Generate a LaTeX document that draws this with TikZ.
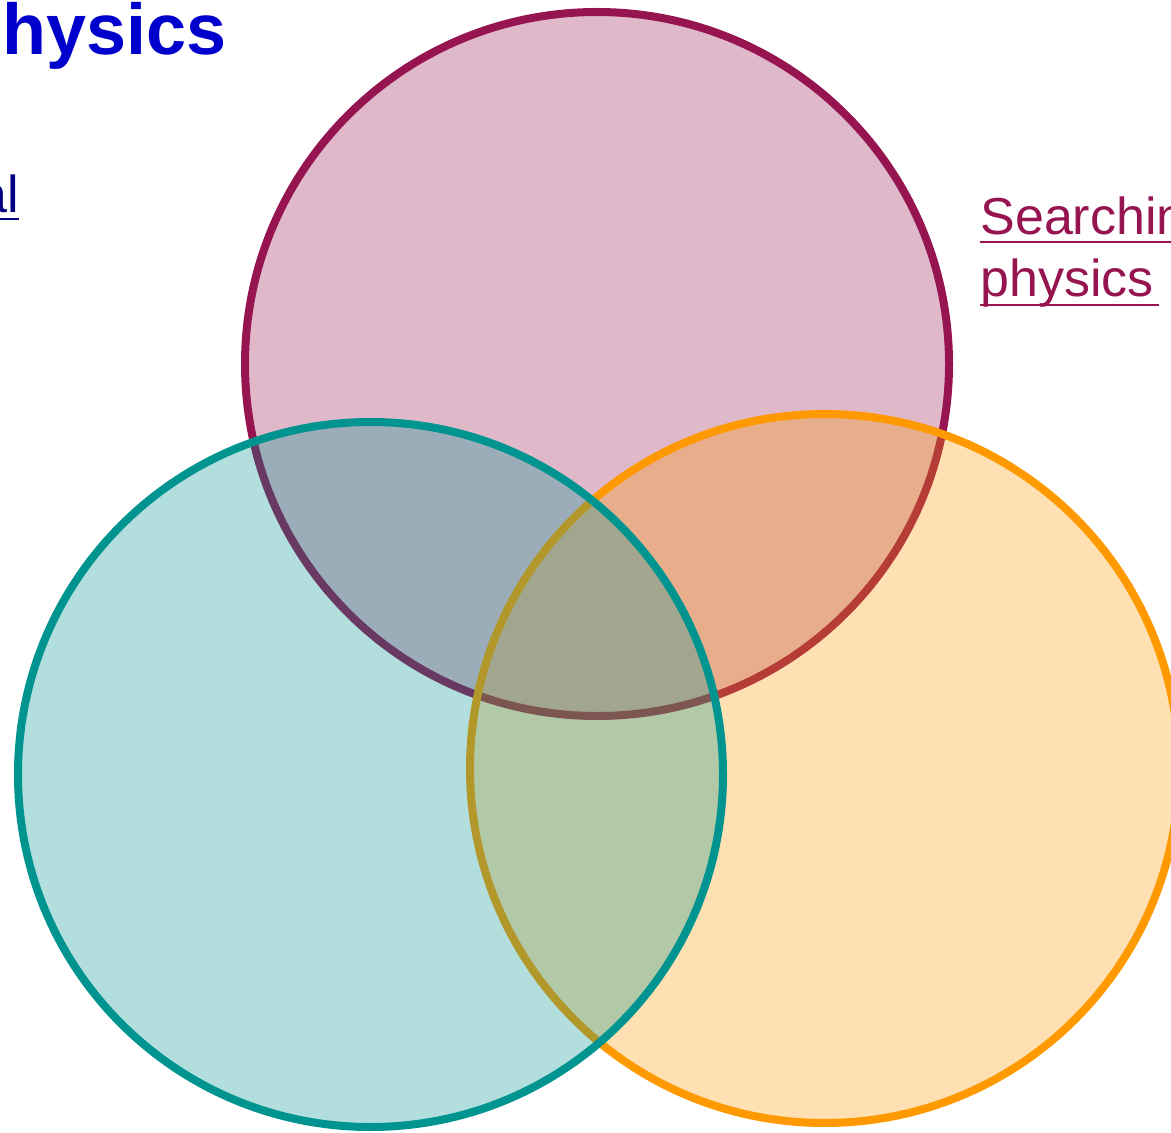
\documentclass[tikz,border=0pt]{standalone}
\usepackage{fontspec}
\setmainfont{Liberation Sans}
\usepackage{xcolor}
\usetikzlibrary{positioning}
\definecolor{hepcol}{HTML}{961450}
\definecolor{tealcol}{HTML}{009490}
\definecolor{orangecol}{HTML}{FF9900}
\definecolor{titlecol}{HTML}{0000CC}
\definecolor{navycol}{HTML}{000080}
\tikzset{
  venn/.style={
    shape = circle,
    inner sep = 0pt,
    line width = 4pt,
    fill opacity = 0.3,
    draw opacity = 1
  },
  link/.style={
    inner sep = 0pt,
    font = \fontsize{26pt}{31pt}\selectfont
  },
  uline/.style={
    line width = 1.4pt
  },
}
\begin{document}
\begin{tikzpicture}[x=0.5pt, y=-0.5pt]
    \useasboundingbox (0,0) rectangle (1171,1133);
    \clip (0,0) rectangle (1171,1133);
    % the three circles, later ones laid over earlier ones
    \node[venn, draw=hepcol, fill=hepcol, minimum size=352pt] (hep) at (597,364) {};
    \node[venn, draw=orangecol, fill=orangecol, minimum size=354.5pt] (orng) at (824.5,768.5) {};
    \node[venn, draw=tealcol, fill=tealcol, minimum size=352.5pt] (teal) at (370.5,774.5) {};
    % texts
    \node[anchor=base west, inner sep=0pt, text=titlecol,
          font=\fontsize{36pt}{43pt}\selectfont\bfseries] (title) at (2,55) {hysics};
    \node[link, anchor=base east, text=navycol] (left) at (19,213) {al};
    \node[link, anchor=base west, text=hepcol] (srch) at (980,235) {Searchin};
    \node[link, anchor=base west, text=hepcol] (phys) at ([yshift=-31pt]srch.base west) {physics};
    \draw[uline, navycol] ([yshift=-3pt]left.base west) -- ([yshift=-3pt]left.base east);
    \draw[uline, hepcol] ([yshift=-3.5pt]srch.base west) -- ([yshift=-3.5pt]srch.base east);
    \draw[uline, hepcol] ([yshift=-4pt]phys.base west) -- ([xshift=2.5pt, yshift=-4pt]phys.base east);
\end{tikzpicture}
\end{document}
